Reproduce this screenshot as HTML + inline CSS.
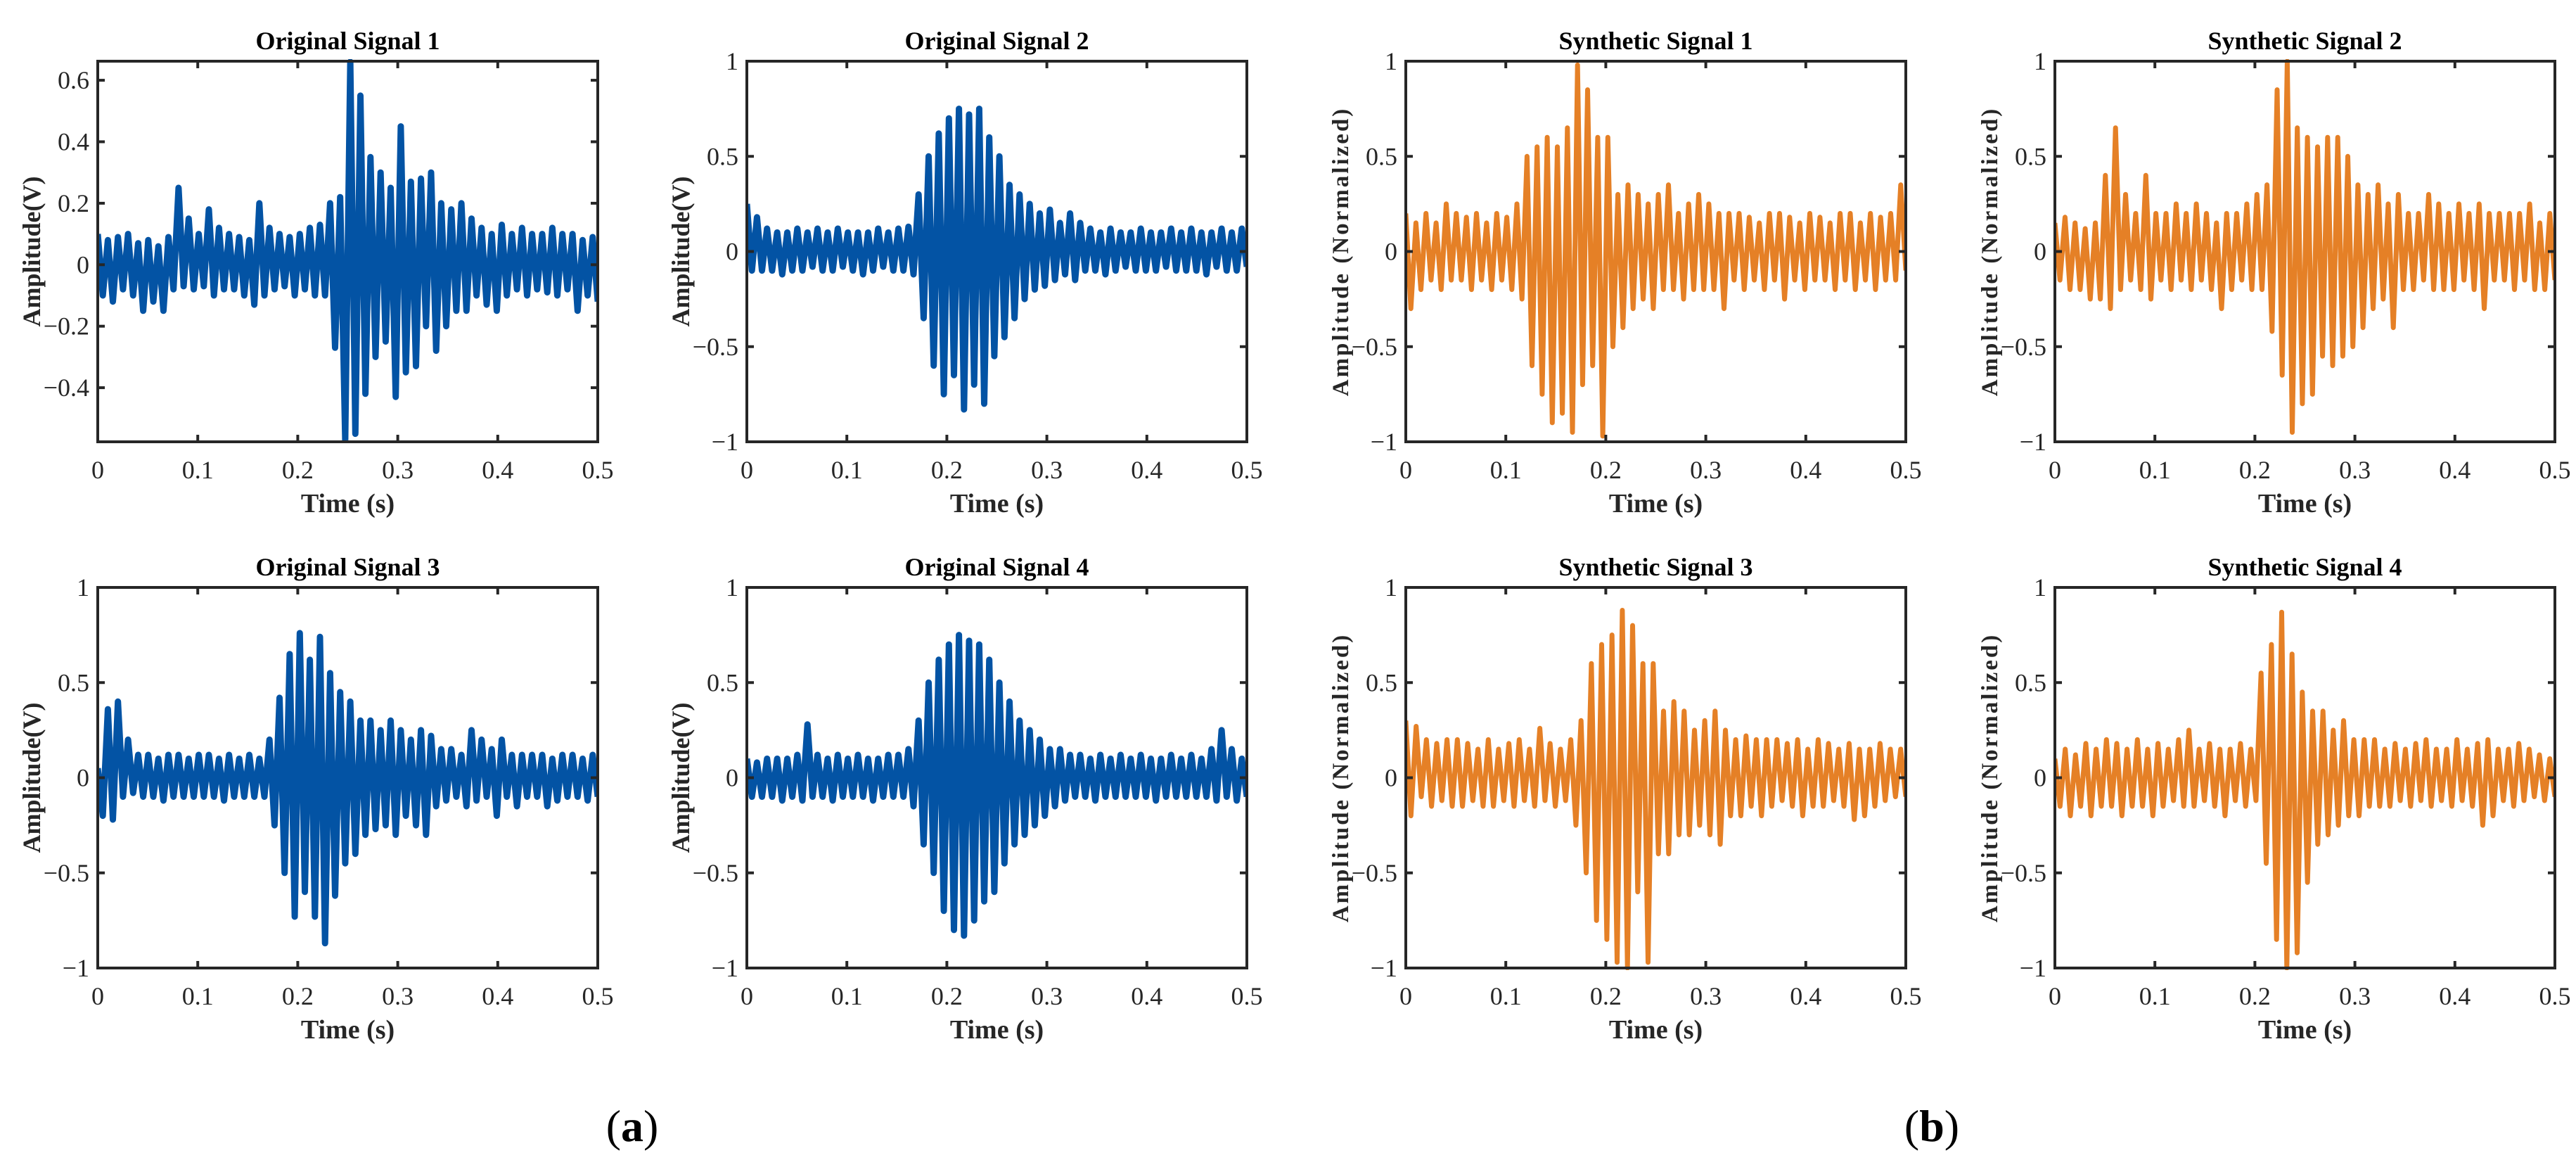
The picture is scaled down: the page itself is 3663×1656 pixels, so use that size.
<!DOCTYPE html>
<html><head><meta charset="utf-8"><style>
html,body{margin:0;padding:0;background:#fff;}
svg{display:block;font-family:"Liberation Serif",serif;}
</style></head><body>
<svg id="fig" width="3663" height="1656" viewBox="0 0 3663 1656" xmlns="http://www.w3.org/2000/svg">
<text x="899" y="1622" font-size="64" text-anchor="middle">(<tspan font-weight="bold">a</tspan>)</text>
<text x="2747" y="1622" font-size="64" text-anchor="middle">(<tspan font-weight="bold">b</tspan>)</text>
</svg>
<script>
const duration = 0.5;
const xTicks = [0, 0.1, 0.2, 0.3, 0.4, 0.5];
const xTickLabels = ["0", "0.1", "0.2", "0.3", "0.4", "0.5"];
const yTicksOrig1 = [-0.4, -0.2, 0, 0.2, 0.4, 0.6];
const yTickLabelsOrig1 = ["\u22120.4", "\u22120.2", "0", "0.2", "0.4", "0.6"];
const yTicksStd = [-1, -0.5, 0, 0.5, 1];
const yTickLabelsStd = ["\u22121", "\u22120.5", "0", "0.5", "1"];
const titles = ["Original Signal 1","Original Signal 2","Synthetic Signal 1","Synthetic Signal 2","Original Signal 3","Original Signal 4","Synthetic Signal 3","Synthetic Signal 4"];

const orig1 = [0.1,-0.1,0.08,-0.12,0.09,-0.08,0.1,-0.1,0.07,-0.15,0.08,-0.12,0.06,-0.15,0.09,-0.08,
0.25,-0.07,0.15,-0.08,0.1,-0.07,0.18,-0.1,0.12,-0.08,
0.1,-0.08,0.09,-0.1,0.08,-0.13,0.2,-0.1,0.12,-0.08,0.1,-0.07,0.09,-0.1,0.1,-0.08,0.12,-0.1,0.13,-0.1,
0.2,-0.27,0.22,-0.57,0.66,-0.55,0.55,-0.42,0.35,-0.3,0.3,-0.25,0.25,-0.43,0.45,-0.35,0.27,-0.33,0.28,-0.2,0.3,-0.28,0.2,-0.2,
0.18,-0.15,0.2,-0.15,0.15,-0.1,0.12,-0.13,0.1,-0.15,0.13,-0.1,0.1,-0.08,0.12,-0.1,0.1,-0.08,0.1,-0.09,0.12,-0.1,0.1,-0.08,0.1,-0.15,0.08,-0.1,0.09,-0.12];
const orig2 = [0.25,-0.1,0.18,-0.1,0.12,-0.1,0.1,-0.12,0.1,-0.1,
0.12,-0.1,0.1,-0.08,0.12,-0.1,0.1,-0.1,0.12,-0.08,0.1,-0.1,0.1,-0.12,0.1,-0.1,0.12,-0.08,0.1,-0.1,0.12,-0.1,0.13,-0.12,
0.3,-0.35,0.5,-0.6,0.62,-0.75,0.7,-0.65,0.75,-0.83,0.72,-0.7,0.75,-0.8,0.6,-0.55,0.5,-0.45,0.35,-0.35,0.3,-0.25,
0.25,-0.2,0.2,-0.18,0.22,-0.15,0.15,-0.12,0.2,-0.15,0.15,-0.1,0.12,-0.1,0.1,-0.12,0.12,-0.1,0.1,-0.08,0.1,-0.1,0.12,-0.1,0.1,-0.1,0.1,-0.08,0.12,-0.1,0.1,-0.1,0.12,-0.1,0.1,-0.12,0.1,-0.08,0.12,-0.1,0.1,-0.1,0.12,-0.08];
const orig3 = [0.05,-0.2,0.36,-0.22,0.4,-0.1,0.2,-0.08,0.12,-0.1,
0.12,-0.1,0.1,-0.12,0.12,-0.1,0.12,-0.1,0.1,-0.1,0.12,-0.1,0.12,-0.1,0.1,-0.12,0.12,-0.1,0.1,-0.1,0.12,-0.1,0.1,-0.1,
0.2,-0.25,0.42,-0.5,0.65,-0.73,0.76,-0.6,0.62,-0.73,0.74,-0.87,0.55,-0.62,0.45,-0.45,0.4,-0.4,0.3,-0.3,0.3,-0.27,
0.25,-0.25,0.3,-0.3,0.25,-0.2,0.2,-0.25,0.25,-0.3,0.22,-0.15,0.15,-0.12,0.15,-0.1,0.12,-0.15,0.25,-0.12,0.2,-0.1,0.15,-0.2,0.2,-0.1,0.12,-0.15,0.12,-0.1,0.12,-0.1,0.12,-0.15,0.1,-0.12,0.12,-0.1,0.12,-0.1,0.1,-0.12,0.12,-0.1];
const orig4 = [0.1,-0.1,0.08,-0.1,0.1,-0.1,0.1,-0.12,0.1,-0.1,
0.12,-0.12,0.28,-0.1,0.12,-0.1,0.1,-0.12,0.12,-0.1,0.1,-0.1,0.12,-0.1,0.1,-0.12,0.1,-0.1,0.12,-0.1,0.12,-0.1,0.15,-0.15,
0.3,-0.35,0.5,-0.5,0.62,-0.7,0.7,-0.8,0.75,-0.83,0.72,-0.75,0.7,-0.65,0.62,-0.6,0.5,-0.45,0.4,-0.35,0.3,-0.3,
0.25,-0.25,0.2,-0.2,0.15,-0.15,0.15,-0.12,0.12,-0.1,0.12,-0.1,0.1,-0.12,0.12,-0.1,0.1,-0.1,0.12,-0.1,0.1,-0.1,0.12,-0.1,0.1,-0.12,0.1,-0.1,0.12,-0.1,0.1,-0.1,0.12,-0.1,0.1,-0.1,0.15,-0.12,0.25,-0.1,0.15,-0.12,0.1,-0.1];
const synth1 = [0.2,-0.3,0.15,-0.2,0.2,-0.15,0.15,-0.2,0.25,-0.15,
0.2,-0.15,0.18,-0.2,0.2,-0.15,0.15,-0.2,0.2,-0.15,0.18,-0.2,0.25,-0.25,
0.5,-0.6,0.55,-0.75,0.6,-0.9,0.55,-0.85,0.65,-0.95,0.98,-0.7,0.85,-0.6,0.6,-0.97,0.6,-0.5,0.3,-0.4,0.35,-0.3,
0.3,-0.25,0.25,-0.3,0.3,-0.2,0.35,-0.2,0.2,-0.25,0.25,-0.2,0.3,-0.2,0.25,-0.2,0.2,-0.3,0.2,-0.15,0.2,-0.2,0.18,-0.15,0.15,-0.2,0.2,-0.15,0.2,-0.25,0.18,-0.15,0.15,-0.2,0.2,-0.15,0.18,-0.15,0.15,-0.2,0.2,-0.15,0.2,-0.2,0.15,-0.15,0.2,-0.2,0.18,-0.15,0.2,-0.15,0.35,-0.1];
const synth2 = [0.15,-0.15,0.18,-0.2,0.15,-0.2,0.12,-0.25,0.15,-0.25,
0.4,-0.3,0.65,-0.2,0.3,-0.15,0.2,-0.2,0.4,-0.25,
0.2,-0.15,0.2,-0.2,0.25,-0.15,0.2,-0.2,0.25,-0.15,0.2,-0.2,0.15,-0.3,0.2,-0.2,0.2,-0.15,0.25,-0.2,0.3,-0.2,
0.35,-0.42,0.85,-0.65,1.0,-0.95,0.65,-0.8,0.6,-0.75,0.55,-0.55,0.6,-0.6,0.6,-0.55,0.5,-0.5,0.35,-0.4,
0.3,-0.3,0.35,-0.25,0.25,-0.4,0.3,-0.2,0.2,-0.2,0.2,-0.15,0.3,-0.2,0.25,-0.2,0.2,-0.2,0.25,-0.15,0.2,-0.2,0.25,-0.3,0.2,-0.15,0.2,-0.15,0.2,-0.2,0.2,-0.15,0.25,-0.2,0.15,-0.2,0.2,-0.15];
const synth3 = [0.3,-0.2,0.27,-0.1,0.2,-0.15,0.18,-0.12,0.2,-0.15,
0.2,-0.15,0.18,-0.12,0.15,-0.15,0.2,-0.15,0.15,-0.12,0.18,-0.15,0.2,-0.12,0.15,-0.15,0.26,-0.12,0.18,-0.15,0.15,-0.12,0.2,-0.25,
0.3,-0.5,0.6,-0.75,0.7,-0.85,0.75,-0.97,0.88,-1.0,0.8,-0.6,0.6,-0.97,0.6,-0.4,0.35,-0.4,0.4,-0.3,
0.35,-0.3,0.25,-0.25,0.3,-0.3,0.35,-0.35,0.25,-0.2,0.2,-0.2,0.22,-0.15,0.2,-0.2,0.2,-0.15,0.2,-0.12,0.18,-0.15,0.2,-0.2,0.15,-0.15,0.2,-0.15,0.18,-0.12,0.15,-0.15,0.18,-0.22,0.15,-0.2,0.15,-0.15,0.18,-0.12,0.15,-0.1,0.15,-0.1];
const synth4 = [0.1,-0.15,0.15,-0.2,0.12,-0.15,0.18,-0.2,0.15,-0.15,0.2,-0.15,0.18,-0.2,0.15,-0.15,0.2,-0.15,0.15,-0.2,0.18,-0.15,0.15,-0.12,0.2,-0.15,0.25,-0.15,0.15,-0.12,0.18,-0.15,0.15,-0.2,0.15,-0.12,0.18,-0.15,0.15,-0.12,
0.55,-0.45,0.7,-0.85,0.87,-1.0,0.65,-0.92,0.45,-0.55,0.35,-0.35,0.35,-0.3,
0.25,-0.25,0.3,-0.2,0.2,-0.2,0.2,-0.15,0.2,-0.15,0.15,-0.15,0.18,-0.12,0.15,-0.15,0.18,-0.12,0.2,-0.15,0.15,-0.12,0.15,-0.15,0.2,-0.12,0.15,-0.15,0.18,-0.25,0.2,-0.2,0.15,-0.12,0.15,-0.15,0.18,-0.12,0.15,-0.1,0.12,-0.12,0.1,-0.1];

const NS = "http://www.w3.org/2000/svg";
const svg = document.getElementById('fig');
const colX = [139, 1062, 1999, 2922];
const rowY = [87, 835];
const W = 711, H = 541;
const BLUE = "#0353a4", ORANGE = "#e58026";

function el(tag, attrs, parent) {
  const e = document.createElementNS(NS, tag);
  for (const k in attrs) e.setAttribute(k, attrs[k]);
  (parent || svg).appendChild(e);
  return e;
}

const panels = [
  {data: orig1, yMin: -0.576, yMax: 0.662, yt: yTicksOrig1, yl: yTickLabelsOrig1, c: 0, r: 0, synth: false},
  {data: orig2, yMin: -1, yMax: 1, yt: yTicksStd, yl: yTickLabelsStd, c: 1, r: 0, synth: false},
  {data: synth1, yMin: -1, yMax: 1, yt: yTicksStd, yl: yTickLabelsStd, c: 2, r: 0, synth: true},
  {data: synth2, yMin: -1, yMax: 1, yt: yTicksStd, yl: yTickLabelsStd, c: 3, r: 0, synth: true},
  {data: orig3, yMin: -1, yMax: 1, yt: yTicksStd, yl: yTickLabelsStd, c: 0, r: 1, synth: false},
  {data: orig4, yMin: -1, yMax: 1, yt: yTicksStd, yl: yTickLabelsStd, c: 1, r: 1, synth: false},
  {data: synth3, yMin: -1, yMax: 1, yt: yTicksStd, yl: yTickLabelsStd, c: 2, r: 1, synth: true},
  {data: synth4, yMin: -1, yMax: 1, yt: yTicksStd, yl: yTickLabelsStd, c: 3, r: 1, synth: true}
];

panels.forEach((p, idx) => {
  const x0 = colX[p.c], y0 = rowY[p.r];
  const xs = v => x0 + v / duration * W;
  const ys = v => y0 + (p.yMax - v) / (p.yMax - p.yMin) * H;
  const g = el('g', {});
  
  
  const clipId = 'clip' + idx;
  const cp = el('clipPath', {id: clipId}, g);
  el('rect', {x: x0, y: y0 - 3, width: W, height: H + 6}, cp);
  const n = p.data.length;
  let d = '';
  p.data.forEach((v, i) => {
    const t = i * duration / (n - 1);
    d += (i ? 'L' : 'M') + xs(t).toFixed(1) + ',' + ys(v).toFixed(1);
  });
  const line = el('path', {d: d, fill: 'none', stroke: p.synth ? ORANGE : BLUE, 'stroke-width': p.synth ? 7 : 9, 'stroke-linejoin': 'round', 'clip-path': 'url(#' + clipId + ')'}, g);
  
  
  const frame = el('rect', {x: x0, y: y0, width: W, height: H, fill: 'none', stroke: '#262626', 'stroke-width': 4}, g);
  
  
  xTicks.forEach((v, i) => {
    const x = xs(v);
    el('line', {x1: x, y1: y0 + H, x2: x, y2: y0 + H - 10, stroke: '#262626', 'stroke-width': 4}, g);
    el('line', {x1: x, y1: y0, x2: x, y2: y0 + 10, stroke: '#262626', 'stroke-width': 4}, g);
    const t = el('text', {x: x, y: y0 + H + 52, 'font-size': 36, 'text-anchor': 'middle', fill: '#262626'}, g);
    t.textContent = xTickLabels[i];
    
    
  });
  p.yt.forEach((v, i) => {
    const y = ys(v);
    el('line', {x1: x0, y1: y, x2: x0 + 10, y2: y, stroke: '#262626', 'stroke-width': 4}, g);
    el('line', {x1: x0 + W, y1: y, x2: x0 + W - 10, y2: y, stroke: '#262626', 'stroke-width': 4}, g);
    const t = el('text', {x: x0 - 12, y: y + 12, 'font-size': 36, 'text-anchor': 'end', fill: '#262626'}, g);
    t.textContent = p.yl[i];
    
    
  });
  const tt = el('text', {x: x0 + W / 2, y: y0 - 17, 'font-size': 36, 'font-weight': 'bold', 'text-anchor': 'middle', fill: '#000'}, g);
  tt.textContent = titles[idx];
  
  
  const xl = el('text', {x: x0 + W / 2, y: y0 + H + 100, 'font-size': 38, 'font-weight': 'bold', 'text-anchor': 'middle', fill: '#262626'}, g);
  xl.textContent = 'Time (s)';
  
  
  const lx = x0 - 82, ly = y0 + H / 2;
  const yl = el('text', {x: lx, y: ly, 'font-size': 36, 'font-weight': 'bold', 'text-anchor': 'middle', fill: '#262626', transform: 'rotate(-90 ' + lx + ' ' + ly + ')'}, g);
  if (p.synth) { yl.setAttribute('letter-spacing', '3'); yl.setAttribute('font-size', '33'); }
  yl.textContent = p.synth ? 'Amplitude (Normalized)' : 'Amplitude(V)';
  
  
});
</script>
</body></html>
